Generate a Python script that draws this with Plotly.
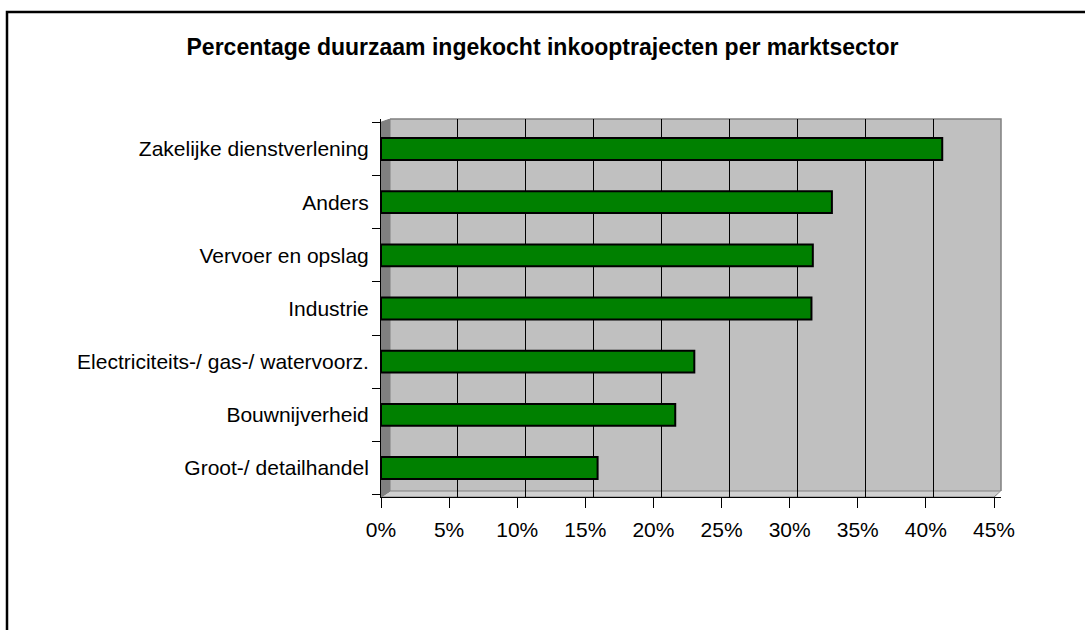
import plotly.graph_objects as go

# ---- data ----
categories = [
    "Groot-/ detailhandel",
    "Bouwnijverheid",
    "Electriciteits-/ gas-/ watervoorz.",
    "Industrie",
    "Vervoer en opslag",
    "Anders",
    "Zakelijke dienstverlening",
]
values = [0.159, 0.216, 0.230, 0.316, 0.317, 0.331, 0.412]
tick_values = [0, 0.05, 0.10, 0.15, 0.20, 0.25, 0.30, 0.35, 0.40, 0.45]
tick_labels = ["0%", "5%", "10%", "15%", "20%", "25%", "30%", "35%", "40%", "45%"]
title_text = "Percentage duurzaam ingekocht inkooptrajecten per marktsector"

# ---- layout geometry (pixels) ----
W, H = 1085, 630
L, R, T, B = 381, 1001, 119, 497
pw, ph = R - L, B - T
FONT = "Liberation Sans, Arial, sans-serif"


def px(x):
    return (x - L) / pw


def py(y):
    return (B - y) / ph


xmax = 0.45 * pw / (994 - L)
depth = 0.45 * 8 / (994 - L)

fig = go.Figure()
fig.add_trace(go.Bar(
    x=values, y=categories, orientation="h",
    marker=dict(color="#008000", line=dict(color="#000000", width=2)),
    width=0.41, hoverinfo="x+y", showlegend=False,
))
# empty helper trace so the offset (back-wall) grid axis is rendered
fig.add_trace(go.Scatter(x=[], y=[], xaxis="x2", yaxis="y", showlegend=False, hoverinfo="skip"))


def poly(pts):
    return "M " + " L ".join(f"{px(a)},{py(b)}" for a, b in pts) + " Z"


shapes = [
    # floor
    dict(type="path", xref="paper", yref="paper", layer="between",
         path=poly([(381, 497), (390, 491), (1001, 491), (994, 497)]),
         fillcolor="#D0D0D0", line=dict(color="#808080", width=1)),
    # left wall
    dict(type="path", xref="paper", yref="paper", layer="between",
         path=poly([(381, 122), (390, 119), (390, 491), (381, 497)]),
         fillcolor="#808080", line=dict(color="#808080", width=1)),
    # white corners
    dict(type="path", xref="paper", yref="paper", layer="between",
         path=poly([(380, 118), (391, 118), (380, 122)]),
         fillcolor="#FFFFFF", line=dict(width=0)),
    dict(type="path", xref="paper", yref="paper", layer="between",
         path=poly([(994, 498), (1002, 490), (1002, 498)]),
         fillcolor="#FFFFFF", line=dict(width=0)),
    # back wall border (top + right)
    dict(type="path", xref="paper", yref="paper", layer="between",
         path="M " + f"{px(390)},{py(119)} L {px(1001)},{py(119)} L {px(1001)},{py(491)}",
         line=dict(color="#808080", width=1.5)),
    # outer chart border
    dict(type="rect", xref="paper", yref="paper", layer="above",
         x0=px(7), x1=px(1095), y0=py(645), y1=py(12),
         line=dict(color="#000000", width=2.5), fillcolor="rgba(0,0,0,0)"),
]

fig.update_layout(
    width=W, height=H,
    margin=dict(l=L, r=W - R, t=T, b=H - B, pad=0),
    paper_bgcolor="#FFFFFF",
    plot_bgcolor="#C0C0C0",
    font=dict(family=FONT, size=21, color="#000000"),
    title=dict(text=title_text, x=0.5, xref="container", xanchor="center",
               y=1 - 47 / H, yref="container", yanchor="middle",
               font=dict(family=FONT, size=23, color="#000000", weight="bold")),
    xaxis=dict(range=[0, xmax], tickvals=tick_values, ticktext=tick_labels,
               showgrid=False, zeroline=False, showline=True, linecolor="#000000",
               linewidth=1, ticks="outside", ticklen=10, tickcolor="#000000",
               ticklabelstandoff=4, tickfont=dict(size=21)),
    xaxis2=dict(range=[-depth, xmax - depth], overlaying="x", anchor="y",
                tickvals=tick_values[1:-1], showticklabels=False, ticks="",
                showgrid=True, gridcolor="#000000", gridwidth=1,
                zeroline=False, showline=False),
    yaxis=dict(categoryorder="array", categoryarray=categories,
               range=[-0.545, 6.564], showgrid=False, zeroline=False,
               showline=True, linecolor="#000000", linewidth=1,
               ticks="outside", ticklen=8, tickcolor="#000000",
               tickson="boundaries", ticklabelstandoff=7, tickfont=dict(size=21)),
    shapes=shapes,
    bargap=0.59,
)

fig.write_html(
    "out.html",
    config={"displayModeBar": False},
    post_script="document.body.style.margin='0';document.body.style.overflow='hidden';",
)
